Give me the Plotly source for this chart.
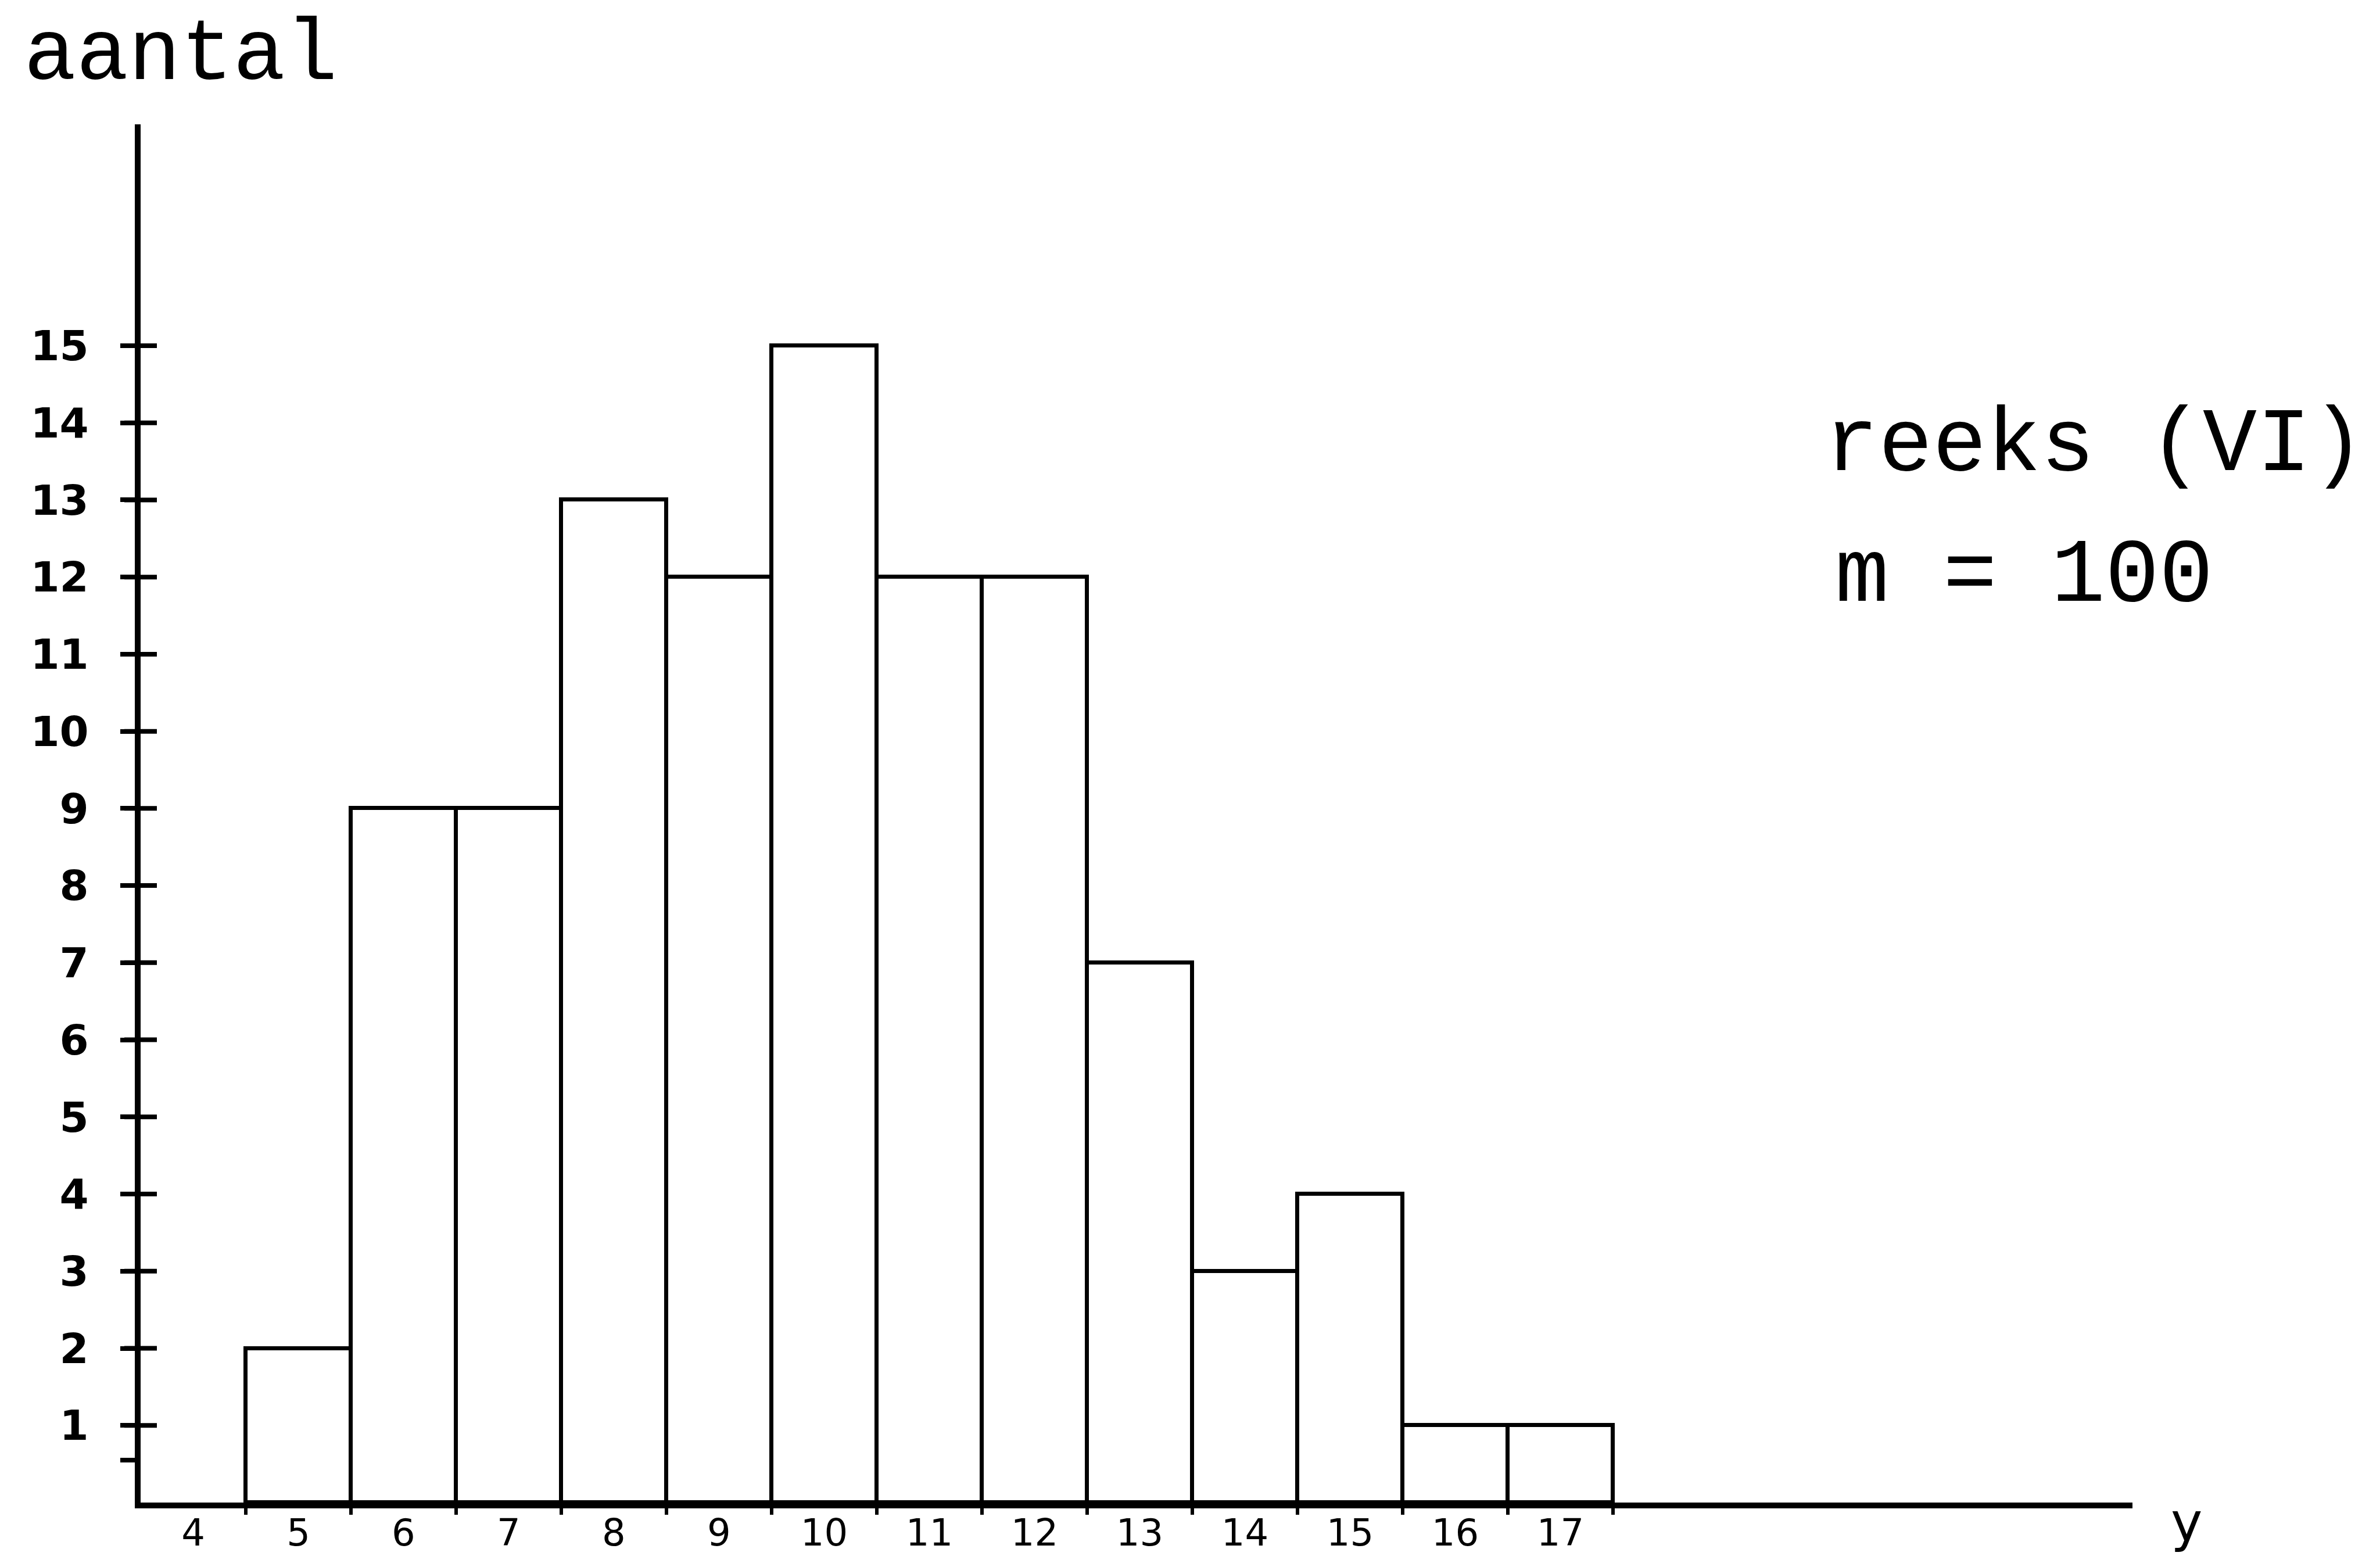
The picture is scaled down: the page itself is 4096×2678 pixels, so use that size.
import plotly.graph_objects as go

# ---- data ----
y_values = [5, 6, 7, 8, 9, 10, 11, 12, 13, 14, 15, 16, 17]
counts = [2, 9, 9, 13, 12, 15, 12, 12, 7, 3, 4, 1, 1]
x_tick_values = [4, 5, 6, 7, 8, 9, 10, 11, 12, 13, 14, 15, 16, 17]
x_tick_labels = [str(v) for v in x_tick_values]
x_edge_ticks = [4.5, 5.5, 6.5, 7.5, 8.5, 9.5, 10.5, 11.5, 12.5, 13.5, 14.5, 15.5, 16.5, 17.5]
y_tick_values = [0.55, 1, 2, 3, 4, 5, 6, 7, 8, 9, 10, 11, 12, 13, 14, 15]
y_tick_labels = [""] + [str(v) for v in range(1, 16)]
y_cross_ticks = list(range(1, 16))

W, H = 4096, 2678
L, R, T, B = 234, 434, 206, 100
PW, PH = W - L - R, H - T - B
x_range = [3.5, 22.44]
y_range = [0, 17.87]

mono = "Liberation Mono, Courier New, monospace"


def px(xf):  # figure pixel -> paper x
    return (xf - L) / PW


def py(yf):  # figure pixel -> paper y
    return (H - B - yf) / PH


fig = go.Figure()
fig.add_trace(go.Bar(
    x=y_values, y=counts, width=1,
    marker=dict(color="white", line=dict(color="black", width=7)),
    showlegend=False, hoverinfo="skip",
))
# inner half of the crossing tick marks on the vertical axis
fig.add_trace(go.Scatter(
    x=[x_range[0]] * len(y_cross_ticks), y=y_cross_ticks, mode="markers",
    marker=dict(symbol="line-ew", size=40, color="black",
                line=dict(color="black", width=8)),
    cliponaxis=False, showlegend=False, hoverinfo="skip",
))
# helper trace so the overlay axis with the bin-edge ticks exists
fig.add_trace(go.Scatter(x=[None], y=[None], xaxis="x2", yaxis="y",
                         showlegend=False, hoverinfo="skip"))

fig.update_layout(
    template="none",
    width=W, height=H,
    margin=dict(l=L, r=R, t=T, b=B, pad=0, autoexpand=False),
    paper_bgcolor="white", plot_bgcolor="white",
    bargap=0,
    xaxis=dict(
        range=x_range, showgrid=False, zeroline=False, automargin=False,
        showline=True, linecolor="black", linewidth=10,
        tickmode="array", tickvals=x_tick_values, ticktext=x_tick_labels,
        ticks="", ticklabelstandoff=-13,
        tickfont=dict(family="DejaVu Sans", size=64, color="black"),
    ),
    xaxis2=dict(
        range=x_range, overlaying="x", anchor="y", side="bottom",
        showgrid=False, zeroline=False, showline=False, automargin=False,
        tickmode="array", tickvals=x_edge_ticks, showticklabels=False,
        ticks="outside", ticklen=20, tickwidth=6, tickcolor="black",
    ),
    yaxis=dict(
        range=y_range, showgrid=False, zeroline=False, automargin=False,
        showline=True, linecolor="black", linewidth=10,
        tickmode="array", tickvals=y_tick_values, ticktext=y_tick_labels,
        ticks="outside", ticklen=25, tickwidth=8, tickcolor="black",
        ticklabelstandoff=40,
        tickfont=dict(family="DejaVu Sans", size=72, color="black", weight="bold"),
    ),
    annotations=[
        dict(text="aantal", xref="paper", yref="paper", x=px(31), y=py(88),
             xanchor="left", yanchor="middle", showarrow=False,
             font=dict(family=mono, size=150, color="black")),
        dict(text="reeks (VI)", xref="paper", yref="paper",
             x=px(3130), y=py(760),
             xanchor="left", yanchor="middle", showarrow=False,
             font=dict(family=mono, size=155, color="black")),
        dict(text="m = 100", xref="paper", yref="paper",
             x=px(3148), y=py(985),
             xanchor="left", yanchor="middle", showarrow=False,
             font=dict(family=mono, size=155, color="black")),
        dict(text="y", xref="paper", yref="paper",
             x=px(3755), y=py(2612),
             xanchor="center", yanchor="middle", showarrow=False,
             font=dict(family="DejaVu Sans", size=92, color="black")),
    ],
)

fig.write_html("out.html")
